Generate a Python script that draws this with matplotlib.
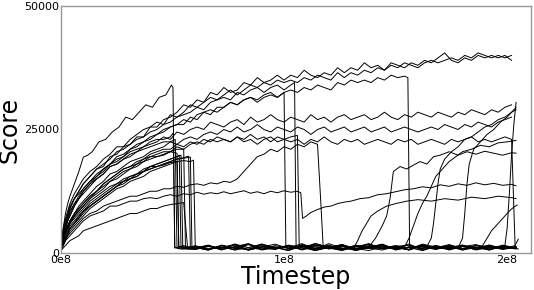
import matplotlib
matplotlib.use("Agg")
import matplotlib.pyplot as plt

# ---- data: timesteps in millions, scores in thousands ----
# common logging grid for the early / surviving part of each run
tC = [0, 1, 2, 3, 4, 6, 8, 10, 13, 16, 19, 22, 25, 28, 31, 34, 37, 40, 43, 46, 49, 52, 55, 58, 61, 64, 67, 70,
      73, 76, 79, 82, 85, 88, 91, 94, 97, 100, 103, 106, 109, 112, 115, 118, 121, 124, 127, 130, 133, 136, 139,
      142, 145, 148, 151, 154, 157, 160, 163, 166, 169, 172, 175, 178, 181, 184, 187, 190, 193, 196, 199, 202]
# coarser grid for the collapsed (near-zero) parts
G = [60, 66, 72, 78, 84, 90, 96, 102, 108, 114, 120, 126, 132, 138, 144, 150, 156, 162, 168, 174, 180, 186,
     192, 198, 204]


def upto(grid, hi, lo=-1):
    return [t for t in grid if lo <= t <= hi]


# surviving runs
s1_t = tC
s1_s = [1, 4, 6, 7.5, 9, 11, 12.5, 14,
        15.5, 17, 17.5, 19.5, 20, 21.5, 22, 23.5, 23.5, 25.5,
        25.5, 27, 27.5, 28.5, 30, 29.5, 31, 30.5, 32.5, 32,
        33.5, 32.5, 33, 34.5, 34, 35.5, 34.5, 35, 36, 35,
        36, 35.5, 37, 36, 35.5, 36.5, 36, 37.5, 36.5, 37.5,
        37, 38.5, 37.5, 38, 37, 38.5, 38, 37.5, 38.5, 38,
        39, 38.5, 39.5, 40.5, 39, 38.5, 39.5, 39, 40, 39.5,
        40, 39.5, 40, 39]

s2_t = tC
s2_s = [1.5, 5, 7, 8.5, 10, 12, 13.5, 15,
        16.5, 17.5, 19, 20, 21.5, 21.5, 23, 24, 25, 25.5,
        26.5, 26, 28, 27.5, 28.5, 30, 29.5, 30.5, 31.5, 31,
        32, 33, 32, 33, 34, 33.5, 34.5, 34, 35, 34.5,
        35, 34.5, 35.5, 35, 36, 35.5, 35, 36.5, 35.5, 36.5,
        36, 37, 36.5, 37.5, 37, 38, 37.5, 38.5, 38, 37.5,
        38.5, 39, 38.5, 39, 39.5, 39, 40, 39.5, 40.5, 40,
        39.5, 40, 39.5, 40]

s4_t = tC
s4_s = [0.5, 3.5, 5, 6.5, 7.5, 9.5, 11, 12,
        13.5, 15, 16, 17.5, 18, 19, 20, 20.5, 21.5, 22,
        22.5, 23.5, 23, 24.5, 24, 25, 25.5, 25, 26.5, 26,
        25.5, 26.5, 27, 26, 27.5, 26.5, 27, 28, 27, 26.5,
        27.5, 27, 26.5, 28, 27, 27.5, 26.5, 27.5, 28, 27,
        27.5, 28, 27, 27.5, 28.5, 27.5, 27, 28, 27.5, 28.5,
        28, 27.5, 28.5, 28, 27.5, 28.5, 28, 29, 28.5, 28,
        29, 28.5, 29.5, 30]

s5_t = tC
s5_s = [1, 3, 4.5, 5.5, 6.5, 8, 9.5, 10.5,
        12, 13.5, 14.5, 16, 16.5, 17.5, 18.5, 19, 19.5, 20.5,
        21, 21.5, 22.5, 22, 23, 23.5, 23, 24, 24.5, 24,
        25, 24.5, 25.5, 24.5, 25, 26, 25, 24.5, 25.5, 25,
        24.5, 25.5, 25, 24, 25, 25.5, 24.5, 25, 25.5, 24.5,
        25, 25.5, 24.5, 25, 25.5, 24.5, 25, 25.5, 25, 24.5,
        25, 25.5, 25, 26, 25.5, 25, 26, 25.5, 26.5, 26,
        25.5, 26.5, 27, 27.5]

s6_t = tC + [203.6, 205]
s6_s = [0.5, 2.5, 4, 5, 6, 7.5, 8.5, 9.5,
        11, 12.5, 13.5, 14.5, 15.5, 16.5, 17, 18, 18.5, 19.5,
        20, 20.5, 20.5, 21.5, 21, 22, 22.5, 22, 23, 22.5,
        23, 22.5, 23.5, 22.5, 23, 22, 23, 23.5, 22.5, 23,
        22.5, 23, 22, 23, 22.5, 23.5, 22.5, 22, 23, 22.5,
        23, 22, 22.5, 23, 22.5, 22, 23, 22.5, 23, 22,
        22.5, 23, 22.5, 22, 23, 22.5, 23, 23.5, 22.5, 23,
        22.5, 23, 23.5, 23,
        1.0, 0.8]

# run that collapses at ~1.56e8
s3_t = upto(tC, 154) + [155.5, 156.3] + upto(G, 204, 162)
s3_s = [0.5, 3, 5, 6.5, 8, 10, 11.5, 13,
        14.5, 16, 17, 18, 19.5, 20, 21, 22, 22.5, 23.5,
        24, 25, 25.5, 26, 27, 26.5, 28, 28.5, 28, 29.5,
        29.5, 30.5, 30, 31, 31.5, 31, 32, 32.5, 31.5, 32.5,
        33, 32.5, 33.5, 33, 34, 33.5, 33, 34.5, 34, 35,
        34.5, 35, 34.5, 35.5, 35, 36, 35.5, 35.8,
        35.5, 1.0,
        1.3, 0.7, 1.6, 0.9, 1.2, 0.6, 1.5, 1.0]

# low run that climbs at ~0.75e8 and collapses at ~1.15e8
s7_t = upto(tC, 115) + [116.5, 117.5] + upto(G, 204, 120)
s7_s = [1, 2, 3, 3.5, 4, 5, 6, 7,
        8, 8.5, 9.5, 10, 10.5, 11, 11.5, 11.5, 12, 12.5,
        12.5, 13, 13, 13.5, 13.3, 13.8, 14, 13.7, 14.2, 14,
        14.5, 14.3, 15, 16.5, 18, 19.5, 20, 21, 20.5, 21.5,
        21, 22, 21.5, 22.5, 22,
        10, 1.5,
        0.9, 1.4, 0.6, 1.2, 1.7, 0.8, 1.1, 0.5, 1.5, 1.0, 1.3, 0.7, 1.6, 0.9, 1.2]

# ~12k run with a dip at ~1.08e8 and slow recovery
l2_t = upto(tC, 106) + [107.5, 108.3] + [110, 112, 115, 118, 121, 124, 127, 130, 134, 138, 142, 146, 150, 154,
                                         158, 162, 166, 170, 174, 178, 182, 186, 190, 194, 198, 202, 204]
l2_s = [0.5, 1.5, 2.5, 3, 3.5, 4.5, 5.5, 6.5,
        7.5, 8, 8.5, 9.5, 9.5, 10, 10.5, 10.5, 11, 11.2,
        11, 11.5, 11.8, 11.5, 12, 11.8, 12.3, 11.9, 12.2, 12,
        12.4, 12, 12.3, 12.6, 12.1, 12.4, 12, 12.5, 12.2, 12.6,
        12.3, 12.5,
        12.2, 7,
        7.5, 8.2, 8.8, 9.3, 9.5, 10, 10.3, 10.5, 11, 11.2, 11.8, 12, 12.4, 12.8, 13, 13.4, 13.2, 13.8, 13.5, 14,
        13.7, 14.2, 13.8, 14.1, 13.7, 13.9, 13.6]

# runs collapsing around 1.0e8 - 1.06e8
d1_t = upto(tC, 100) + [100.8] + upto(G, 204, 102)
d1_s = [0.8, 3.5, 5, 6.5, 7.5, 9.5, 11, 12.5,
        14, 15.5, 16.5, 18, 19, 19.5, 21, 21.5, 22.5, 23,
        24, 24.5, 25.5, 26, 26, 27.5, 27, 28.5, 29, 28.5,
        29.5, 30.5, 30, 31, 31.5, 30.5, 31.5, 32, 31.5, 32.5,
        1.2,
        0.8, 1.5, 0.6, 1.1, 1.7, 0.9, 0.5, 1.3, 1.0, 1.8, 0.7, 1.2, 1.5, 0.6, 1.1, 1.6, 0.9, 1.3]

d2_t = upto(tC, 103) + [104.7, 105.4] + upto(G, 204, 108)
d2_s = [0.5, 4, 6, 7.5, 9, 11, 12.5, 14,
        15.5, 17, 18, 19, 20.5, 21, 22, 23, 23.5, 24.5,
        25, 26, 26.5, 27.5, 28, 28.5, 29.5, 29, 30.5, 31,
        31.5, 31, 32.5, 32, 33, 33.5, 32.5, 33.5, 34, 33,
        34,
        34.5, 1.0,
        1.4, 0.7, 1.9, 1.0, 0.6, 1.5, 1.2, 0.8, 1.7, 0.5, 1.3, 1.0, 1.6, 0.7, 1.4, 0.9, 1.2]

d3_t = upto(tC, 106) + [106.8] + upto(G, 204, 108)
d3_s = [1, 3, 4, 5, 6, 7.5, 9, 10,
        11.5, 12.5, 14, 15, 16, 17, 17.5, 18.5, 19, 20,
        20.5, 21, 21, 22, 21.5, 22.5, 22, 23, 22.5, 23.5,
        23, 22.5, 23.5, 23, 24, 23, 23.5, 22.5, 23.5, 23,
        23.5, 23.8,
        0.9,
        0.6, 1.3, 0.9, 1.6, 0.5, 1.1, 1.8, 0.7, 1.2, 1.0, 1.5, 0.6, 1.3, 1.7, 0.8, 1.1, 0.9]

# fastest early run: peaks at 0.5e8, collapses, shoots up at the very end
p1_t = [0, 1, 2, 3, 4, 6, 8, 10, 12, 14, 17, 20, 23, 26, 29, 32, 35, 38, 41, 44, 47, 49.5, 50.2, 51, 55] + \
       upto(G, 198) + [199, 200, 201, 202, 203, 204]
p1_s = [1.5, 5, 8, 10, 11.5, 14, 16.5, 19.4, 19.8, 20.5, 22.5, 23, 24.5, 25.5, 27.5, 27, 28.5, 30, 29.5, 31.5,
        32, 34, 33.5, 1.0, 1.5,
        0.9, 1.4, 0.6, 1.8, 1.1, 0.7, 1.5, 1.0, 1.9, 0.8, 1.2, 0.6, 1.6, 1.1, 0.9, 1.4, 0.7, 1.7, 1.0, 1.3, 0.8,
        1.5, 1.2, 0.9,
        1.5, 5, 12, 20, 26, 30.5]

# runs collapsing around 0.5e8 - 0.6e8 (some recover later)
e1_t = upto(tC, 52) + [52.8] + upto(G, 126) + [131, 133, 135, 137, 139, 142, 146, 150, 155, 160, 166, 172, 178,
                                              184, 190, 196, 202, 204]
e1_s = [1, 3, 4.5, 5.5, 6.5, 7.5, 8.5, 9.5,
        11, 12, 13, 14.5, 15, 16, 17, 17.5, 18.5, 19,
        19.5, 19.8, 20.5, 20.2,
        1.3,
        1.1, 0.6, 1.5, 0.9, 1.7, 0.7, 1.2, 1.0, 1.6, 0.5, 1.3, 0.9,
        0.8, 2.5, 4.5, 6, 7.5, 8.5, 9.5, 10, 10.5, 10.8, 10.5, 11, 10.7, 11.3, 11, 11.5, 11.2, 11]

e2_t = upto(tC, 52) + [53.8, 54.6] + upto(G, 132) + [138, 141, 144, 146, 147.5, 149, 152, 155, 158, 161, 164,
                                                    167, 170, 174, 178, 182, 186, 190, 194, 198, 202, 204]
e2_s = [0.5, 2, 3, 4, 5, 6, 7, 8.5,
        9.5, 10.5, 11.5, 12.5, 13.5, 14.5, 15, 16, 16.5, 17.5,
        18, 18.5, 19, 19.5,
        19.8, 1.0,
        1.4, 0.8, 1.2, 0.6, 1.8, 1.0, 0.7, 1.5, 1.1, 1.9, 0.8, 1.3, 0.9,
        1.2, 3, 5.5, 7.5, 11, 16.5, 17.5, 17, 17.8, 18.5, 18, 19.5, 19.8, 20.5, 19.8, 20.5, 20, 20.6, 20.2, 19.8,
        20.3, 20.2]

e3_t = upto(tC, 55) + [56.8] + G
e3_s = [0.5, 1, 1.5, 2, 2.5, 3, 3.5, 4.5,
        5, 5.5, 6, 6.5, 7, 7.5, 8, 8, 8.5, 9,
        9, 9.5, 9.8, 10, 10.2,
        0.8,
        1.2, 0.6, 1.5, 1.0, 0.7, 1.8, 1.1, 0.5, 1.4, 0.9, 1.6, 0.7, 1.2, 1.9, 0.8, 1.3, 0.6, 1.5, 1.0, 1.7, 0.9,
        1.2, 0.6, 1.4, 1.0]

e4_t = upto(tC, 58) + [58.7] + upto(G, 150) + [154, 156, 158, 160, 162, 164, 166, 168, 171, 174, 177, 180, 184,
                                              188, 192, 196, 200, 204]
e4_s = [1, 3, 4, 5, 6, 7, 8, 9,
        10.5, 11.5, 12.5, 13.5, 14, 15, 15.5, 16, 16.5, 17.5,
        17.5, 18, 18.5, 19, 19.2, 19.4,
        1.1,
        0.7, 1.3, 1.0, 1.6, 0.6, 1.2, 1.8, 0.9, 1.4, 0.5, 1.1, 1.7, 0.8, 1.3, 1.0, 1.5,
        1.2, 3, 5.5, 8, 10, 11.5, 13.5, 15.5, 17, 18.5, 19.5, 20.5, 21, 21.8, 21.5, 22.3, 22.5, 22.8]

e5_t = upto(tC, 58) + [59.4, 60.2] + upto(G, 162, 66) + [164, 166, 167, 168, 169, 170, 172, 175, 178, 181, 184,
                                                        187, 190, 193, 196, 199, 202, 204]
e5_s = [0.5, 2, 3, 4, 5, 6, 7.5, 8.5,
        9.5, 10.5, 11.5, 12.5, 13.5, 14.5, 15, 15.5, 16.5, 17,
        17.5, 17.8, 18.3, 18.5, 18.7, 18.5,
        18.8, 1.0,
        1.5, 0.8, 1.2, 0.6, 1.7, 1.0, 1.4, 0.7, 1.9, 1.1, 0.6, 1.3, 0.9, 1.6, 0.8, 1.2, 1.0,
        1.3, 3, 6, 10, 14, 17, 19, 20.5, 21.5, 23, 23.5, 24.5, 25.5, 26, 27, 27.5, 28.5, 29]

e6_t = upto(tC, 49) + [50.3, 51, 54] + upto(G, 174) + [178, 180, 181, 182, 183, 185, 188, 191, 194, 197, 200,
                                                      202, 204]
e6_s = [1.5, 4.5, 6.5, 8, 9.5, 11, 12, 13,
        14.5, 15.5, 17, 18, 18.5, 19.5, 20.5, 21, 21.5, 22.5,
        23, 23, 23.5,
        24.3, 1.2, 0.8,
        1.3, 0.6, 1.6, 1.0, 0.8, 1.5, 1.2, 0.5, 1.7, 0.9, 1.1, 1.4, 0.7, 1.8, 1.0, 1.3, 0.6, 1.5, 0.9, 1.2,
        1.0, 3, 8, 14, 18, 21, 22.5, 24, 25, 26.5, 27.5, 28.5, 29.5]

e7_t = upto(tC, 52) + [52.8] + upto(G, 186) + [189, 191, 193, 195, 197, 199, 201, 203, 204.5]
e7_s = [0.5, 1.5, 2.5, 3.5, 4.5, 5.5, 6.5, 7.5,
        9, 10, 11, 12, 13, 13.5, 14.5, 15, 15.5, 16.5,
        17, 17.5, 18, 18.5,
        1.1,
        0.9, 1.5, 0.7, 1.2, 1.8, 0.6, 1.1, 1.4, 0.8, 1.6, 1.0, 0.5, 1.3, 1.7, 0.9, 1.2, 0.7, 1.5, 1.1, 0.8, 1.4,
        1.0,
        1.5, 3, 4.5, 5.5, 6.5, 7.5, 8.5, 9.3, 9.7]

e8_t = upto(tC, 49) + [51.2, 52] + G
e8_s = [1, 3.5, 5.5, 7, 8.5, 10, 11, 12.5,
        14, 15, 16, 17.5, 18, 19, 19.5, 20.5, 21, 21.5,
        22, 22.5, 22.5,
        23, 0.9,
        0.7, 1.4, 1.0, 1.8, 0.6, 1.2, 0.9, 1.6, 1.1, 0.5, 1.5, 0.8, 1.3, 1.0, 1.7, 0.6, 1.2, 1.4, 0.8, 1.1, 1.6,
        0.9, 1.3, 0.7, 1.2]

e9_t = upto(tC, 52) + [53, 53.8] + G
e9_s = [0.5, 2.5, 3.5, 4.5, 5.5, 6.5, 7.5, 8.5,
        10, 11, 12, 13, 14, 14.5, 15.5, 16, 17, 17.5,
        18, 18.5, 19, 19.5,
        19.8, 1.2,
        1.0, 1.6, 0.7, 1.3, 1.9, 0.8, 1.1, 0.6, 1.5, 1.2, 0.9, 1.7, 0.6, 1.1, 1.4, 1.0, 0.7, 1.8, 1.2, 0.9, 1.5,
        0.6, 1.1, 1.3, 0.8]

e10_t = upto(tC, 55) + [55.8] + upto(G, 198) + [201, 203.5, 205]
e10_s = [1, 3, 4.5, 5.5, 6.5, 8, 9, 10,
         11.5, 12.5, 14, 15, 16, 17, 17.5, 18, 19, 19.5,
         19.5, 20, 20.5, 21, 21,
         1.0,
         1.2, 0.8, 1.5, 0.6, 1.1, 1.8, 0.9, 1.3, 0.7, 1.6, 1.0, 1.4, 0.5, 1.2, 1.7, 0.8, 1.1, 1.5, 0.9, 1.3, 0.6,
         1.6, 1.0, 1.2,
         1.2, 1.5, 2.8]

e11_t = upto(tC, 55) + [57.2, 58] + G
e11_s = [0.5, 2, 3, 4, 5, 6, 7, 8,
         9.5, 10.5, 11.5, 12.5, 13.5, 14, 15, 15.5, 16.5, 17,
         17.5, 18, 18.5, 19, 19.3,
         19.6, 0.9,
         1.5, 0.8, 1.1, 1.7, 0.6, 1.3, 1.0, 1.4, 0.7, 1.9, 1.2, 0.8, 1.5, 1.0, 0.6, 1.3, 1.6, 0.9, 1.2, 0.7, 1.4,
         1.1, 0.8, 1.6, 1.0]

x_ticks = [0, 1e8, 2e8]
x_tick_labels = ["0e8", "1e8", "2e8"]
y_ticks = [0, 25000, 50000]
y_tick_labels = ["0", "25000", "50000"]

runs = {"s1": (s1_t, s1_s), "s2": (s2_t, s2_s), "s3": (s3_t, s3_s), "s4": (s4_t, s4_s), "s5": (s5_t, s5_s),
        "s6": (s6_t, s6_s), "s7": (s7_t, s7_s), "l2": (l2_t, l2_s), "d1": (d1_t, d1_s), "d2": (d2_t, d2_s),
        "d3": (d3_t, d3_s), "p1": (p1_t, p1_s), "e1": (e1_t, e1_s), "e2": (e2_t, e2_s), "e3": (e3_t, e3_s),
        "e4": (e4_t, e4_s), "e5": (e5_t, e5_s), "e6": (e6_t, e6_s), "e7": (e7_t, e7_s), "e8": (e8_t, e8_s),
        "e9": (e9_t, e9_s), "e10": (e10_t, e10_s), "e11": (e11_t, e11_s)}

bad = [f"{k}:{len(t)}/{len(s)}" for k, (t, s) in runs.items() if len(t) != len(s)]
if bad:
    raise SystemExit("length mismatch " + " ".join(bad))

fig = plt.figure(figsize=(5.34, 2.90), dpi=100)
ax = fig.add_axes([61 / 534, 1 - 253 / 290, 470 / 534, 247 / 290])

for k, (t, s) in runs.items():
    ax.plot([v * 1e6 for v in t], [v * 1000 for v in s], color="black", lw=0.7)

ax.set_xlim(0, 2.107e8)
ax.set_ylim(0, 50000)
ax.set_xticks(x_ticks)
ax.set_xticklabels(x_tick_labels)
ax.set_yticks(y_ticks)
ax.set_yticklabels(y_tick_labels)
ax.tick_params(length=0, labelsize=8, pad=1.5)
for sp in ax.spines.values():
    sp.set_color("#9a9a9a")
    sp.set_linewidth(1.0)
ax.set_xlabel("Timestep", fontsize=17, labelpad=0)
ax.set_ylabel("Score", fontsize=17)
ax.yaxis.set_label_coords(-0.083, 0.5)

fig.savefig("out.png", dpi=100)
